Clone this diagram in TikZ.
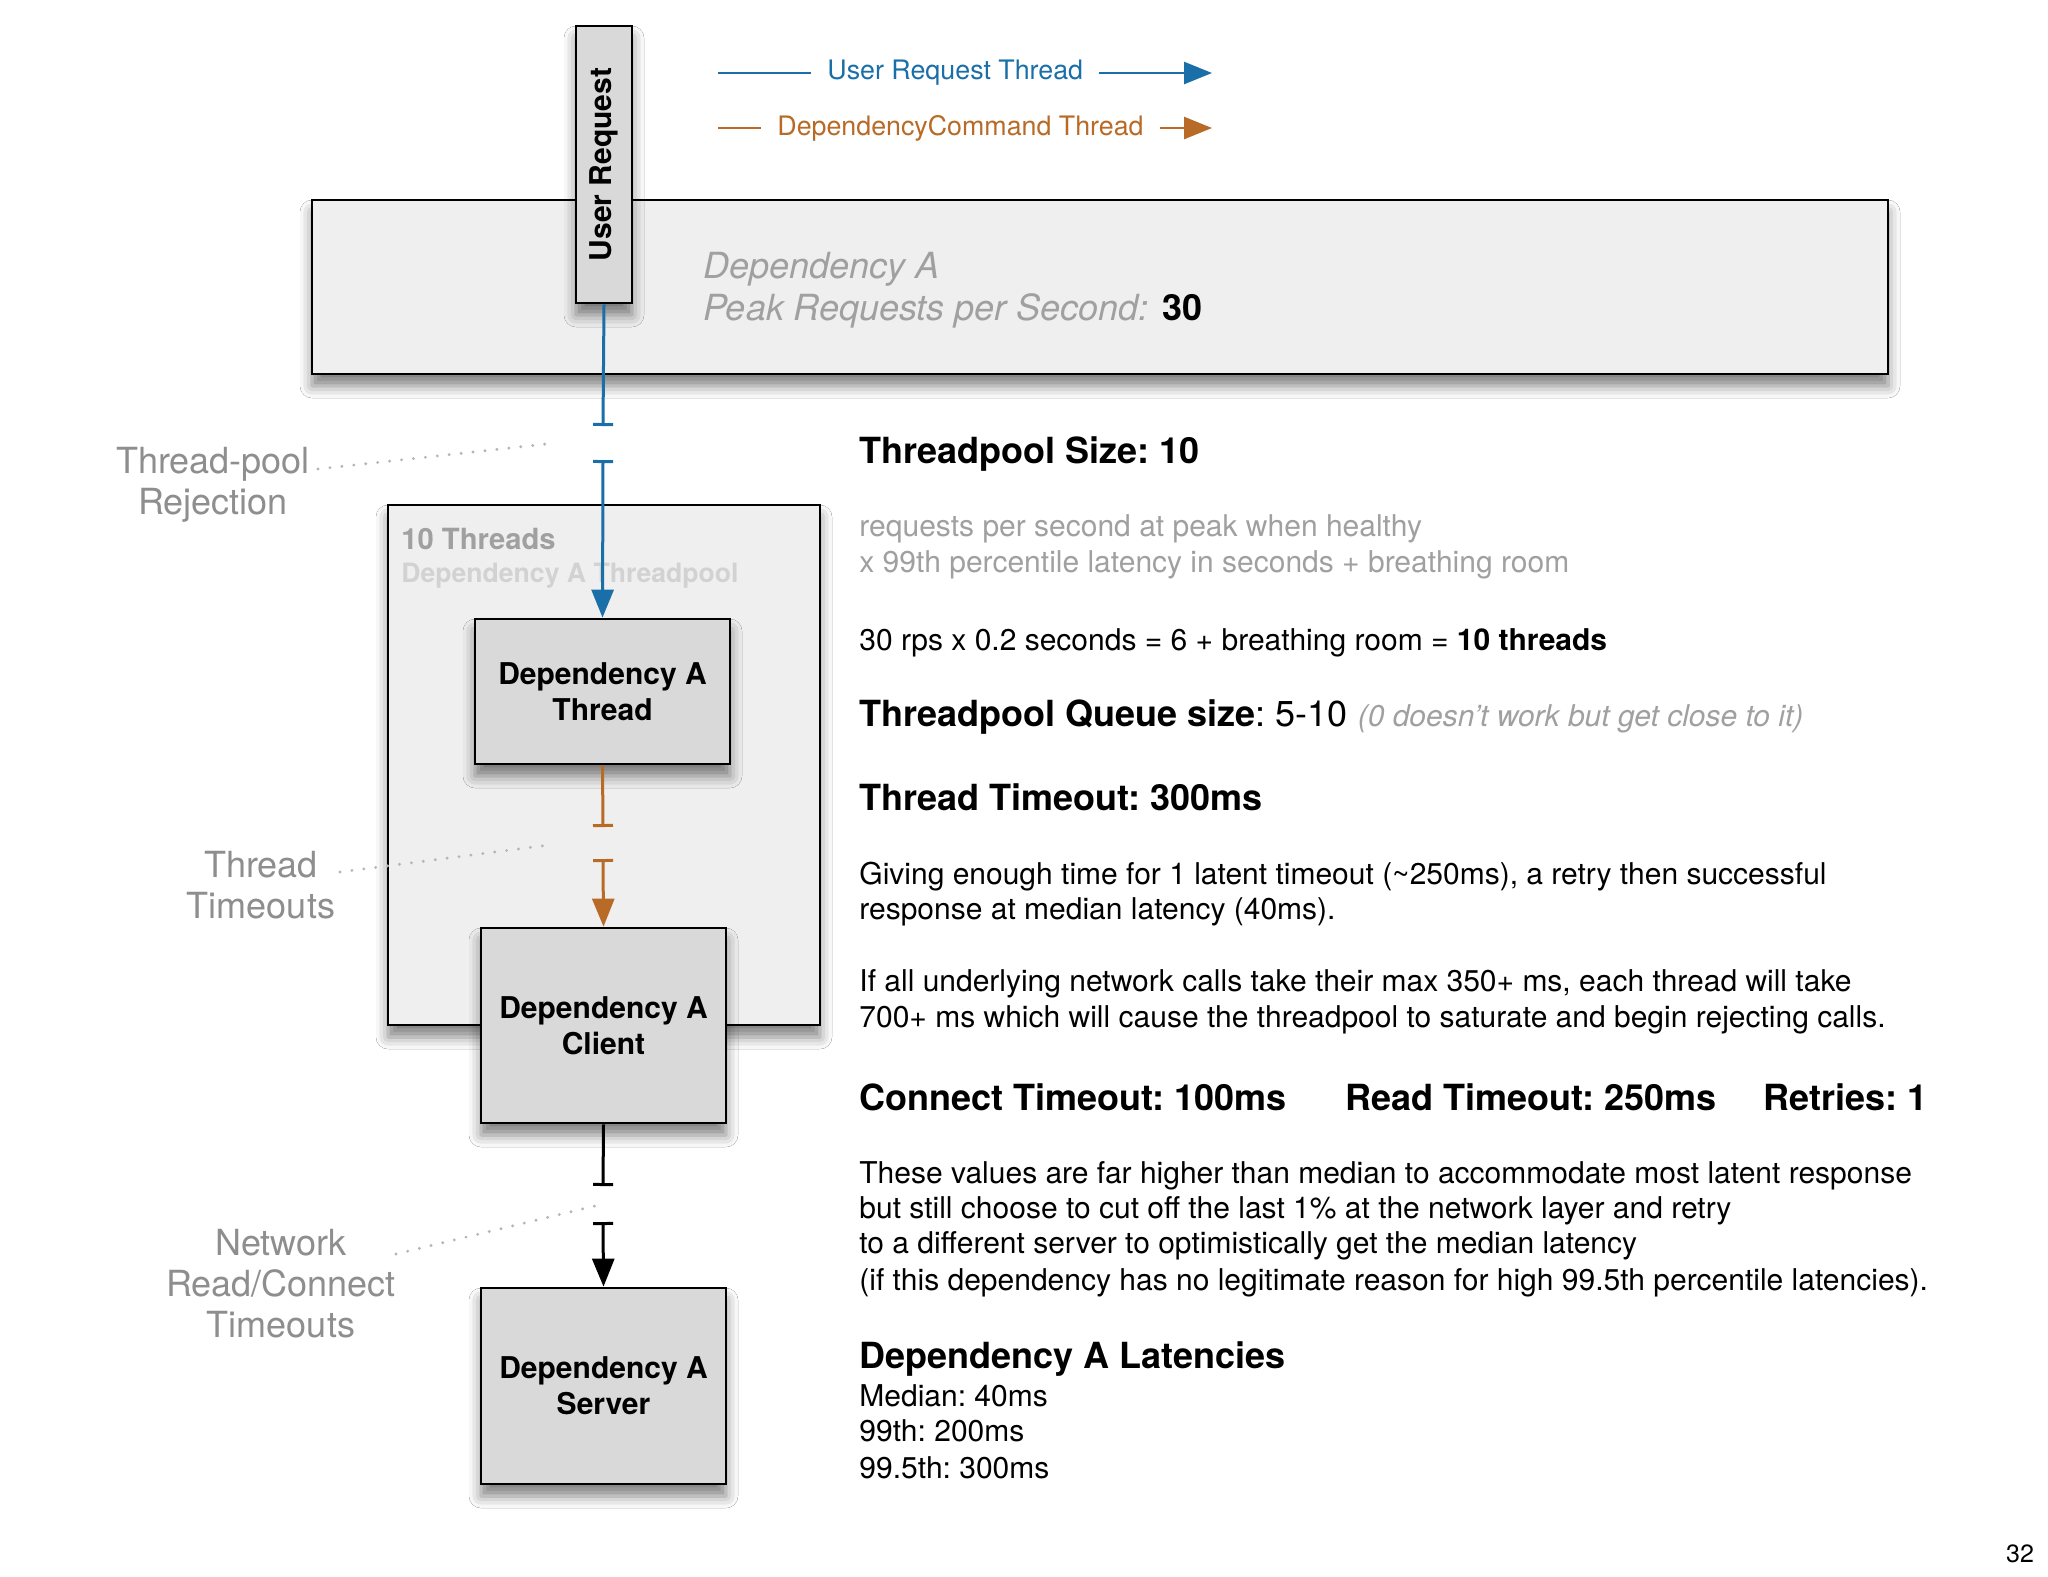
\documentclass[tikz,border=0pt]{standalone}
\usepackage{fontspec}
\usepackage{graphicx}
\setmainfont{TeX Gyre Heros}
\frenchspacing
\usetikzlibrary{arrows.meta,shadows.blur}
\definecolor{ublue}{HTML}{1B6FA8}
\definecolor{dorange}{HTML}{B86B26}
\definecolor{lblgray}{HTML}{8E8E8E}
\definecolor{dotgray}{HTML}{B5B5B5}
\definecolor{panelfill}{HTML}{EFEFEF}
\definecolor{boxfill}{HTML}{D9D9D9}
\definecolor{softgray}{HTML}{A0A0A0}
\definecolor{palegray}{HTML}{D2D2D2}
\tikzset{
  bartip/.tip={Bar[width=10pt,line width=1.5pt]},
  tri/.tip={Triangle[length=14pt,width=11pt]}
}
\begin{document}
\begin{tikzpicture}[x=0.5pt,y=-0.5pt,
  shad/.style={blur shadow={shadow xshift=0pt,shadow yshift=-6pt,shadow blur radius=6pt,shadow opacity=50}},
  panel/.style={draw=black,line width=1.4pt,fill=panelfill,shad,inner sep=0pt},
  dbox/.style={draw=black,line width=1.4pt,fill=boxfill,shad,align=center,
    font=\fontsize{15}{18}\selectfont\bfseries,inner sep=0pt},
  rtxt/.style={anchor=base west,inner sep=0pt,font=\fontsize{15}{18}\selectfont},
  gtxt/.style={rtxt,text=softgray},
  hd/.style={anchor=base west,inner sep=0pt,font=\fontsize{18}{21}\selectfont\bfseries},
  lbl/.style={text=lblgray,align=center,inner sep=0pt,font=\fontsize{18}{20.5}\selectfont},
  legtxt/.style={anchor=west,inner ysep=0pt,inner xsep=8pt,font=\fontsize{13.4}{16}\selectfont},
  conn/.style={line width=1.5pt},
  legln/.style={line width=1.3pt},
  dots/.style={dotgray,line width=1.6pt,line cap=round,dash pattern=on 0pt off 6pt}
]
\fill[white] (0,0) rectangle (2048,1576);
\path[use as bounding box] (0,0) rectangle (2048,1576);

% legend
\coordinate (l1a) at (718,73);
\coordinate (l1b) at (1212,73);
\node[legtxt,text=ublue] (l1t) at (811,73) {User Request Thread};
\draw[ublue,legln] (l1a) -- (l1t.west);
\draw[ublue,legln,-tri] (l1t.east) -- (l1b);
\coordinate (l2a) at (718,128);
\coordinate (l2b) at (1212,128);
\node[legtxt,text=dorange] (l2t) at (761,128) {DependencyCommand Thread};
\draw[dorange,legln] (l2a) -- (l2t.west);
\draw[dorange,legln,-tri] (l2t.east) -- (l2b);

% big dependency box
\node[panel,minimum width=788pt,minimum height=87pt] (dep) at (1100,287) {};
\node[anchor=base west,inner sep=0pt,font=\fontsize{18}{21}\selectfont\itshape,text=softgray] (depn) at (703,278) {Dependency A};
\node[anchor=base west,inner sep=0pt,font=\fontsize{18}{21}\selectfont\itshape,text=softgray] (peak) at (703,320) {Peak Requests per Second:\hspace{7pt}{\upshape\bfseries\color{black}30}};

% user request
\node[dbox,minimum width=28pt,minimum height=138.5pt] (ur) at (604,164.5) {\rotatebox{90}{User Request}};

% threadpool
\node[panel,minimum width=216pt,minimum height=260pt] (pool) at (604,765) {};
\node[anchor=base west,inner sep=0pt,font=\fontsize{14.6}{17}\selectfont\bfseries,text=softgray] (tn) at (401,549) {10 Threads};
\node[anchor=base west,inner sep=0pt,font=\fontsize{13.3}{16}\selectfont\bfseries,text=palegray] (tpn) at (401,582) {Dependency A Threadpool};

\node[dbox,minimum width=127.5pt,minimum height=72.5pt] (thr) at (602.5,691.5) {Dependency A\\Thread};
\node[dbox,minimum width=122.5pt,minimum height=97.5pt] (cli) at (603.5,1025.5) {Dependency A\\Client};
\node[dbox,minimum width=122.5pt,minimum height=98pt] (srv) at (603.5,1386) {Dependency A\\Server};

% connectors
\coordinate (g1a) at (603,426);
\coordinate (g1b) at (603,460);
\draw[ublue,conn,-bartip] (ur.south) -- (g1a);
\draw[ublue,conn,bartip-tri] (g1b) -- (thr.north);
\coordinate (g2a) at (603,827);
\coordinate (g2b) at (603,859);
\draw[dorange,conn,-bartip] (thr.south) -- (g2a);
\draw[dorange,conn,bartip-tri] (g2b) -- (cli.north);
\coordinate (g3a) at (603,1186);
\coordinate (g3b) at (603,1222);
\draw[black,conn,-bartip] (cli.south) -- (g3a);
\draw[black,conn,bartip-tri] (g3b) -- (srv.north);

% left labels
\node[lbl] (rej) at (213,484.5) {Thread-pool\\Rejection};
\node[lbl] (tto) at (261,885.5) {Thread\\Timeouts};
\node[lbl] (ntw) at (281,1284) {Network\\Read/Connect\\Timeouts};
\coordinate (d1s) at (318,469);
\coordinate (d1e) at (555,443);
\draw[dots] (d1s) -- (d1e);
\coordinate (d2s) at (340,872);
\coordinate (d2e) at (549,845);
\draw[dots] (d2s) -- (d2e);
\coordinate (d3s) at (396,1254);
\coordinate (d3e) at (603,1204);
\draw[dots] (d3s) -- (d3e);

% right column
\node[hd] (h1) at (859,463) {Threadpool Size: 10};
\node[gtxt] (t1) at (859,536) {requests per second at peak when healthy};
\node[gtxt] (t2) at (859,572) {x 99th percentile latency in seconds + breathing room};
\node[rtxt] (t3) at (859,650) {30 rps x 0.2 seconds = 6 + breathing room = \textbf{10 threads}};
\node[anchor=base west,inner sep=0pt,font=\fontsize{18}{21}\selectfont] (h2) at (859,726) {\textbf{Threadpool Queue size}: 5-10 {\fontsize{15}{18}\selectfont\itshape\color{softgray}(0 doesn't work but get close to it)}};
\node[hd] (h3) at (859,810) {Thread Timeout: 300ms};
\node[rtxt] (t4) at (859,884) {Giving enough time for 1 latent timeout (\textasciitilde 250ms), a retry then successful};
\node[rtxt] (t5) at (859,919) {response at median latency (40ms).};
\node[rtxt] (t6) at (859,991) {If all underlying network calls take their max 350+ ms, each thread will take};
\node[rtxt] (t7) at (859,1027) {700+ ms which will cause the threadpool to saturate and begin rejecting calls.};
\node[hd] (h4) at (859,1110) {Connect Timeout: 100ms};
\node[hd] (h5) at (1345,1110) {Read Timeout: 250ms};
\node[hd] (h6) at (1763,1110) {Retries: 1};
\node[rtxt] (t8) at (859,1183) {These values are far higher than median to accommodate most latent response};
\node[rtxt] (t9) at (859,1218) {but still choose to cut off the last 1\% at the network layer and retry};
\node[rtxt] (t10) at (859,1253) {to a different server to optimistically get the median latency};
\node[rtxt] (t11) at (859,1290) {(if this dependency has no legitimate reason for high 99.5th percentile latencies).};
\node[hd] (h7) at (859,1368) {Dependency A Latencies};
\node[rtxt] (t12) at (859,1406) {Median: 40ms};
\node[rtxt] (t13) at (859,1441) {99th: 200ms};
\node[rtxt] (t14) at (859,1478) {99.5th: 300ms};

\node[inner sep=0pt,font=\fontsize{12.5}{15}\selectfont] (pg) at (2020,1554) {32};
\end{tikzpicture}
\end{document}
